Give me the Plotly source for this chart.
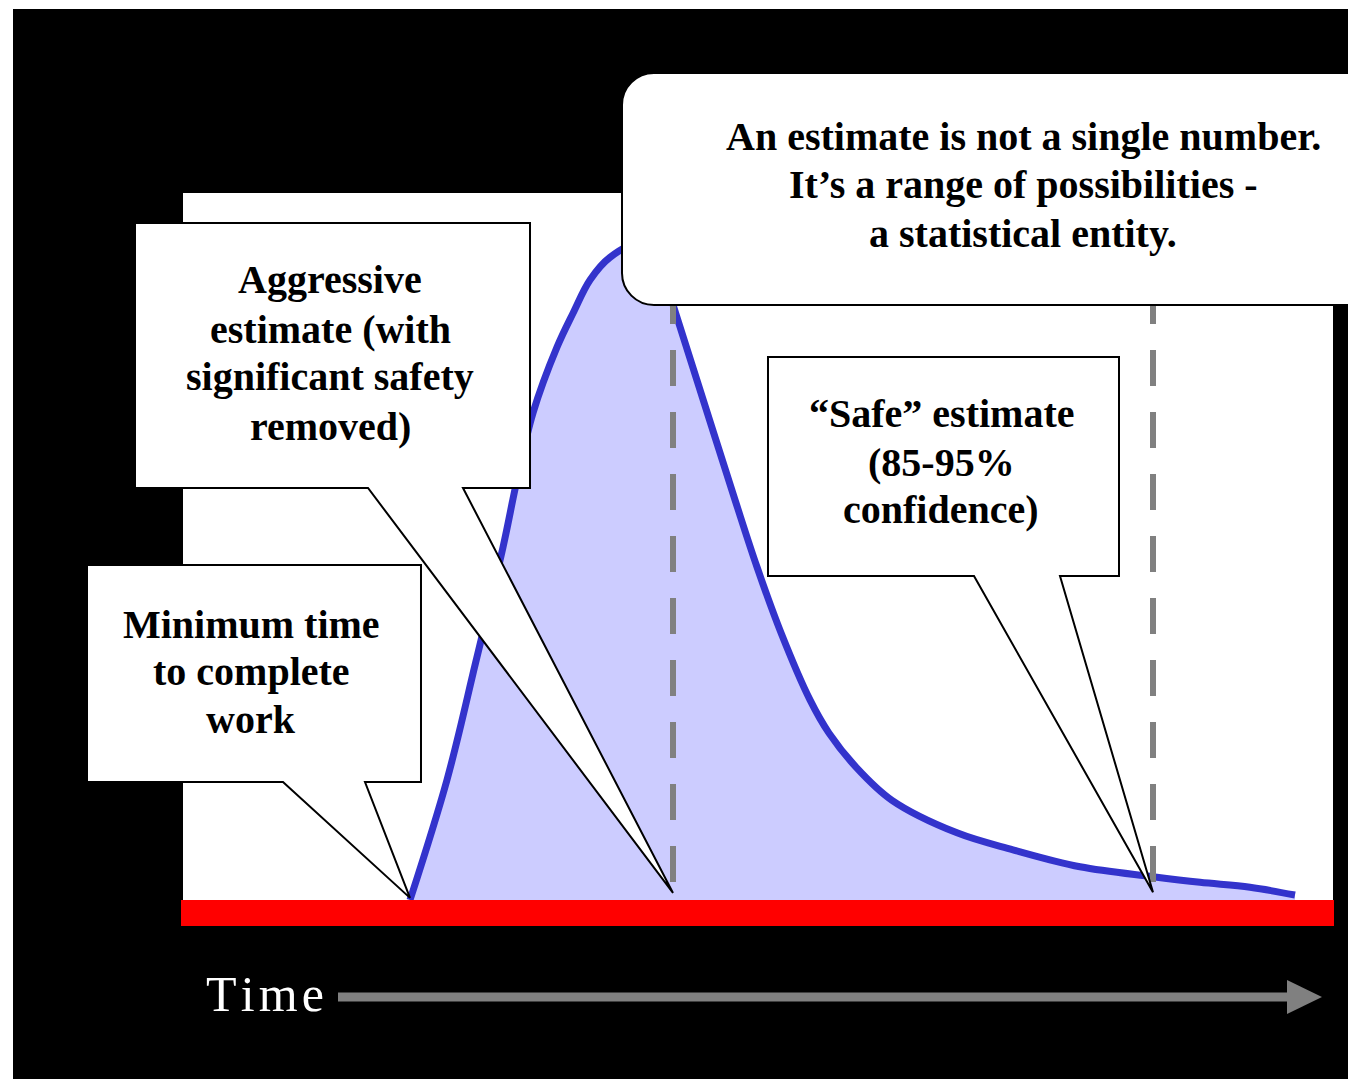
import plotly.graph_objects as go

W, H = 1348, 1079

# ---------------- data (time units vs. relative probability density) ----------------
time_pts = [4.54, 5.28, 5.85, 6.40, 6.68, 7.00, 7.48, 7.80, 8.14, 8.54, 9.14, 9.54,
            9.80, 10.28, 11.04, 11.48, 11.96, 12.54, 12.92, 13.46, 14.18, 15.48,
            16.60, 17.94, 19.40, 20.34, 21.34, 22.24]
density = [0.000, 0.170, 0.335, 0.499, 0.594, 0.689, 0.782, 0.830, 0.877, 0.909, 0.929, 0.902,
           0.842, 0.735, 0.566, 0.471, 0.378, 0.283, 0.236, 0.188, 0.141, 0.095,
           0.071, 0.047, 0.033, 0.025, 0.018, 0.007]

min_time = 4.54      # minimum time to complete work
aggressive = 9.80    # aggressive estimate
safe = 19.40         # "safe" estimate

label_min = ["Minimum time", "to complete", "work"]
label_aggr = ["Aggressive", "estimate (with", "significant safety", "removed)"]
label_safe = ["\u201cSafe\u201d estimate", "(85-95%", "confidence)"]
label_note = ["An estimate is not a single number.",
              "It\u2019s a range of possibilities -",
              "a statistical entity."]
axis_label = "Time"

# ---------------- pixel <-> data mapping (axes fill the whole figure) ----------------
X0, SX = 183, 50.0
Y0, SY = 900, 707.0


def px2t(px):
    return (px - X0) / SX


def py2d(py):
    return (Y0 - py) / SY


def t2px(t):
    return X0 + SX * t


def d2py(d):
    return Y0 - SY * d


def P(px, py):
    return f"{px / W:.5f},{1 - py / H:.5f}"


SERIF = "Liberation Serif, Times New Roman, serif"

fig = go.Figure()

# density curve with fill
fig.add_trace(go.Scatter(
    x=time_pts, y=density, mode="lines",
    line=dict(color="#3333CC", width=7, shape="spline", smoothing=1.0),
    fill="tozeroy", fillcolor="#CCCCFF", hoverinfo="skip", showlegend=False))

# dashed estimate markers
for xv in (aggressive, safe):
    fig.add_trace(go.Scatter(
        x=[xv, xv], y=[py2d(882), py2d(305)], mode="lines",
        line=dict(color="#808080", width=6, dash="36px,26px"),
        hoverinfo="skip", showlegend=False))

shapes = []
# backgrounds
shapes.append(dict(type="rect", xref="paper", yref="paper", layer="below",
                   x0=13 / W, x1=1.01, y0=-0.01, y1=1 - 9 / H,
                   fillcolor="black", line=dict(width=0)))
shapes.append(dict(type="rect", xref="paper", yref="paper", layer="below",
                   x0=183 / W, x1=1333 / W, y0=1 - 900 / H, y1=1 - 193 / H,
                   fillcolor="white", line=dict(width=0)))
# red baseline bar
shapes.append(dict(type="rect", xref="paper", yref="paper",
                   x0=181 / W, x1=1334 / W, y0=1 - 926 / H, y1=1 - 900 / H,
                   fillcolor="#FF0000", line=dict(width=0)))


def callout(L, T, R, B, b1, b2, tx, ty):
    path = ("M " + P(L, T) + " L " + P(R, T) + " L " + P(R, B) + " L " + P(b2, B) +
            " L " + P(tx, ty) + " L " + P(b1, B) + " L " + P(L, B) + " Z")
    return dict(type="path", xref="paper", yref="paper", path=path,
                fillcolor="white", line=dict(color="black", width=2))


shapes.append(callout(87, 565, 421, 782, 283, 365, t2px(min_time), d2py(0.003)))
shapes.append(callout(135, 223, 530, 488, 368, 463, t2px(aggressive), d2py(0.010)))
shapes.append(callout(768, 357, 1119, 576, 974, 1060, t2px(safe), d2py(0.011)))

# rounded note box
L, T, R, B, r = 622, 73, 1362, 305, 32
k = 0.5523 * r
note_path = ("M " + P(L + r, T) + " L " + P(R, T) + " L " + P(R, B) + " L " + P(L + r, B) +
             " C " + P(L + r - k, B) + " " + P(L, B - r + k) + " " + P(L, B - r) +
             " L " + P(L, T + r) +
             " C " + P(L, T + r - k) + " " + P(L + r - k, T) + " " + P(L + r, T) + " Z")
shapes.append(dict(type="path", xref="paper", yref="paper", path=note_path,
                   fillcolor="white", line=dict(color="black", width=2)))

# time arrow
shapes.append(dict(type="line", xref="paper", yref="paper",
                   x0=338 / W, x1=1292 / W, y0=1 - 997 / H, y1=1 - 997 / H,
                   line=dict(color="#808080", width=9)))
shapes.append(dict(type="path", xref="paper", yref="paper",
                   path="M " + P(1287, 980) + " L " + P(1322, 997) + " L " + P(1287, 1014) + " Z",
                   fillcolor="#808080", line=dict(width=0)))

annotations = []


def add_lines(lines, cx, centers, size=40):
    for txt, cy in zip(lines, centers):
        annotations.append(dict(
            text=f"<b>{txt}</b>", xref="paper", yref="paper",
            x=cx / W, y=1 - cy / H, xanchor="center", yanchor="middle",
            showarrow=False, font=dict(family=SERIF, size=size, color="black")))


add_lines(label_min, 251, [624.5, 671.5, 719.5])
add_lines(label_aggr, 330, [279.5, 329.5, 376.5, 426.5])
add_lines(label_safe, 941, [413.5, 462.5, 509.5])
add_lines(label_note, 1023, [136.5, 184.5, 233.5])

annotations.append(dict(
    text="\u200a".join(axis_label), xref="paper", yref="paper", x=265 / W, y=1 - 994 / H,
    xanchor="center", yanchor="middle", showarrow=False,
    font=dict(family=SERIF, size=50, color="white")))

fig.update_layout(
    width=W, height=H, margin=dict(l=0, r=0, t=0, b=0),
    paper_bgcolor="white", plot_bgcolor="rgba(0,0,0,0)",
    xaxis=dict(range=[px2t(0), px2t(W)], visible=False, fixedrange=True, domain=[0, 1]),
    yaxis=dict(range=[py2d(H), py2d(0)], visible=False, fixedrange=True, domain=[0, 1]),
    shapes=shapes, annotations=annotations, showlegend=False, hovermode=False)

fig.write_html("out.html", config={"displayModeBar": False},
               post_script="document.body.style.margin='0';document.body.style.overflow='hidden';")
